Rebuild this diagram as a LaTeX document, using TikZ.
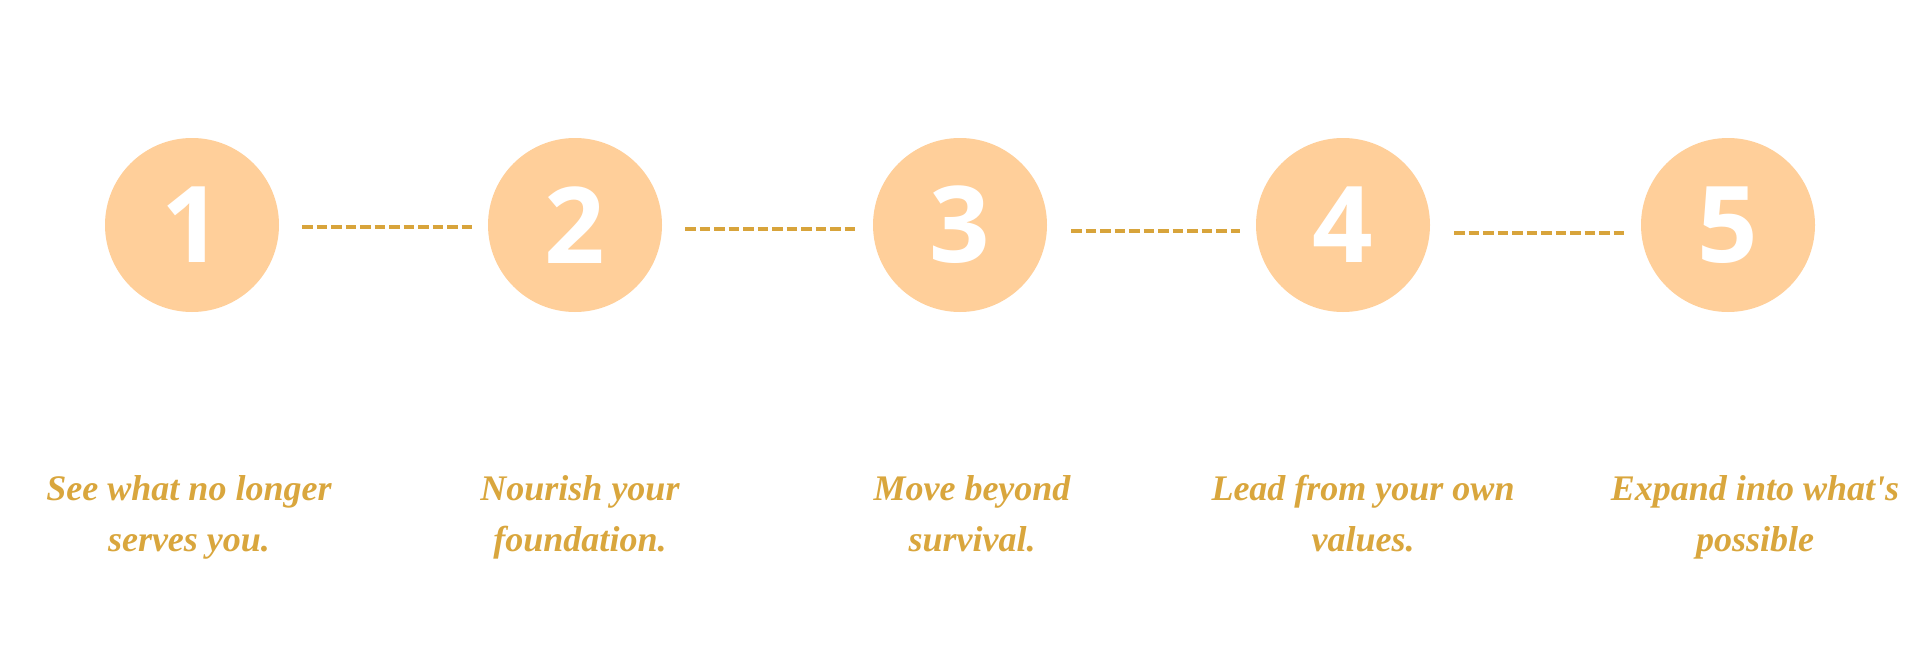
\documentclass[tikz,border=0pt]{standalone}
\usepackage{fontspec}
\newfontfamily\capfont{Liberation Serif}[Ligatures=TeXOff]
\newfontfamily\numfont{Open Sans}
\definecolor{peach}{HTML}{FFCF9A}
\definecolor{gold}{HTML}{D8A43B}
\definecolor{txtgold}{HTML}{D9A63D}
\begin{document}
\begin{tikzpicture}[x=1pt,y=-1pt,
  stepcircle/.style={circle, fill=peach, minimum size=174pt, inner sep=0pt,
    text=white, font=\numfont\bfseries\fontsize{106}{106}\selectfont},
  dashline/.style={draw=gold, line width=4pt, dash pattern=on 10.5pt off 4pt},
  caption/.style={anchor=base, align=center, text=txtgold,
    font=\capfont\bfseries\itshape\fontsize{36}{51}\selectfont}]
\useasboundingbox (0,0) rectangle (1920,669);
\node[stepcircle] (c1) at (192,225) {1};
\node[stepcircle] (c2) at (575,225) {2};
\node[stepcircle] (c3) at (960,225) {3};
\node[stepcircle] (c4) at (1343,225) {4};
\node[stepcircle] (c5) at (1728,225) {5};
\draw[dashline] ([xshift=23pt,yshift=-2pt]c1.east) -- ([xshift=-16pt,yshift=-2pt]c2.west);
\draw[dashline] ([xshift=23pt,yshift=-4pt]c2.east) -- ([xshift=-16pt,yshift=-4pt]c3.west);
\draw[dashline] ([xshift=24pt,yshift=-6pt]c3.east) -- ([xshift=-16pt,yshift=-6pt]c4.west);
\draw[dashline] ([xshift=24pt,yshift=-8pt]c4.east) -- ([xshift=-16pt,yshift=-8pt]c5.west);
\node[caption] (t1) at (189,551) {See what no longer\\serves you.};
\node[caption] (t2) at (580,551) {Nourish your\\foundation.};
\node[caption] (t3) at (972,551) {Move beyond\\survival.};
\node[caption] (t4) at (1363,551) {Lead from your own\\values.};
\node[caption] (t5) at (1755,551) {Expand into what's\\possible};
\end{tikzpicture}
\end{document}
